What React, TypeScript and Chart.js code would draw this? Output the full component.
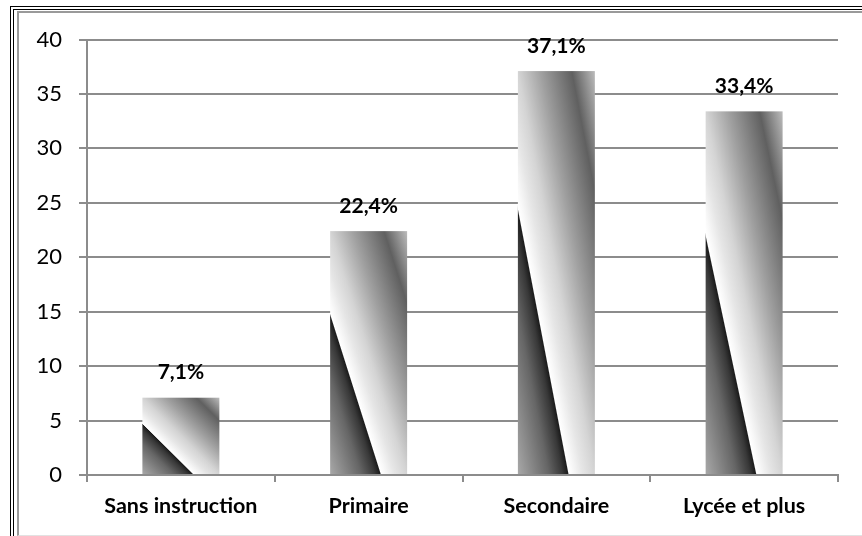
import React, { useEffect, useRef } from "react";
import { Chart, registerables } from "chart.js";

Chart.register(...registerables);

const categories = ["Sans instruction", "Primaire", "Secondaire", "Lycée et plus"];
const values = [7.1, 22.4, 37.1, 33.4];
const valueLabels = ["7,1%", "22,4%", "37,1%", "33,4%"];
const yMin = 0;
const yMax = 40;
const yStep = 5;

// gradient stops along the bar's diagonal (top-right -> bottom-left, in bar-normalised space)
const gradientStops: [number, string][] = [
  [0.0, "#bcbcbc"],
  [0.15, "#606060"],
  [0.35, "#a0a0a0"],
  [0.5, "#d4d4d4"],
  [0.58, "#e6e6e6"],
  [0.64, "#f8f8f8"],
  [0.668, "#ffffff"],
  [0.675, "#1c1c1c"],
  [0.71, "#383838"],
  [0.8, "#666666"],
  [1.0, "#a8a8a8"],
];

const barPaint = {
  id: "barPaint",
  afterDatasetsDraw(chart: any) {
    const ctx = chart.ctx as CanvasRenderingContext2D;
    const meta = chart.getDatasetMeta(0);
    meta.data.forEach((el: any, i: number) => {
      const { x, y, base, width } = el.getProps(["x", "y", "base", "width"], true);
      const left = x - width / 2;
      const top = Math.min(y, base);
      const h = Math.abs(base - y);
      ctx.save();
      ctx.translate(left, top);
      ctx.scale(width, h);
      const g = ctx.createLinearGradient(1, 0, 0, 1);
      gradientStops.forEach(([o, c]) => g.addColorStop(o, c));
      ctx.fillStyle = g;
      ctx.fillRect(0, 0, 1, 1);
      ctx.restore();

      ctx.save();
      ctx.font = "bold 21px Lato";
      ctx.fillStyle = "#000";
      ctx.textAlign = "center";
      ctx.textBaseline = "alphabetic";
      ctx.fillText(valueLabels[i], x, top - 18.5);
      ctx.restore();
    });
  },
};

export default function App() {
  const ref = useRef<HTMLCanvasElement | null>(null);

  useEffect(() => {
    if (!ref.current) return;
    Chart.defaults.font.family = "Lato";
    const chart = new Chart(ref.current, {
      type: "bar",
      data: {
        labels: categories,
        datasets: [
          {
            data: values,
            backgroundColor: "rgba(0,0,0,0)",
            borderWidth: 0,
            barPercentage: 0.41,
            categoryPercentage: 1,
          },
        ],
      },
      options: {
        responsive: false,
        animation: false,
        devicePixelRatio: 1,
        layout: { padding: { left: 0, right: 24, top: 39.5, bottom: 0 } },
        plugins: { legend: { display: false }, tooltip: { enabled: false } },
        scales: {
          x: {
            offset: true,
            afterFit: (s: any) => {
              s.height = 61;
            },
            grid: {
              offset: true,
              drawOnChartArea: false,
              drawTicks: true,
              tickLength: 7,
              color: "#8c8c8c",
              lineWidth: 2,
            },
            border: { display: true, color: "#8c8c8c", width: 2 },
            ticks: {
              color: "#000",
              font: { family: "Lato", size: 21.5, weight: "bold" },
              padding: 11,
              maxRotation: 0,
              autoSkip: false,
            },
          },
          y: {
            min: yMin,
            max: yMax,
            afterFit: (s: any) => {
              s.width = 87;
            },
            grid: {
              color: "#8c8c8c",
              lineWidth: 2,
              tickLength: 8,
              drawTicks: true,
            },
            border: { display: true, color: "#8c8c8c", width: 2 },
            ticks: {
              stepSize: yStep,
              color: "#000",
              font: { family: "Lato", size: 22 },
              padding: 17,
            },
          },
        },
      },
      plugins: [barPaint],
    });
    return () => chart.destroy();
  }, []);

  return (
    <div
      style={{
        position: "fixed",
        left: 0,
        top: 0,
        width: 862,
        height: 536,
        overflow: "hidden",
        background: "#fff",
      }}
    >
      <div
        style={{
          position: "absolute",
          left: 10,
          top: 6,
          width: 852,
          height: 530,
          boxSizing: "border-box",
          borderLeft: "1px solid #000",
          borderTop: "1px solid #000",
        }}
      />
      <div
        style={{
          position: "absolute",
          left: 13,
          top: 9,
          width: 849,
          height: 527,
          boxSizing: "border-box",
          borderLeft: "1px solid #000",
          borderTop: "1px solid #000",
        }}
      />
      <div
        style={{
          position: "absolute",
          left: 17,
          top: 11,
          width: 845,
          height: 525,
          boxSizing: "border-box",
          borderLeft: "2px solid #9a9a9a",
          borderTop: "2px solid #9a9a9a",
          borderBottom: "1px solid #e2e2e2",
        }}
      />
      <canvas
        ref={ref}
        width={862}
        height={536}
        style={{ position: "absolute", left: 0, top: 0, width: 862, height: 536 }}
      />
    </div>
  );
}
